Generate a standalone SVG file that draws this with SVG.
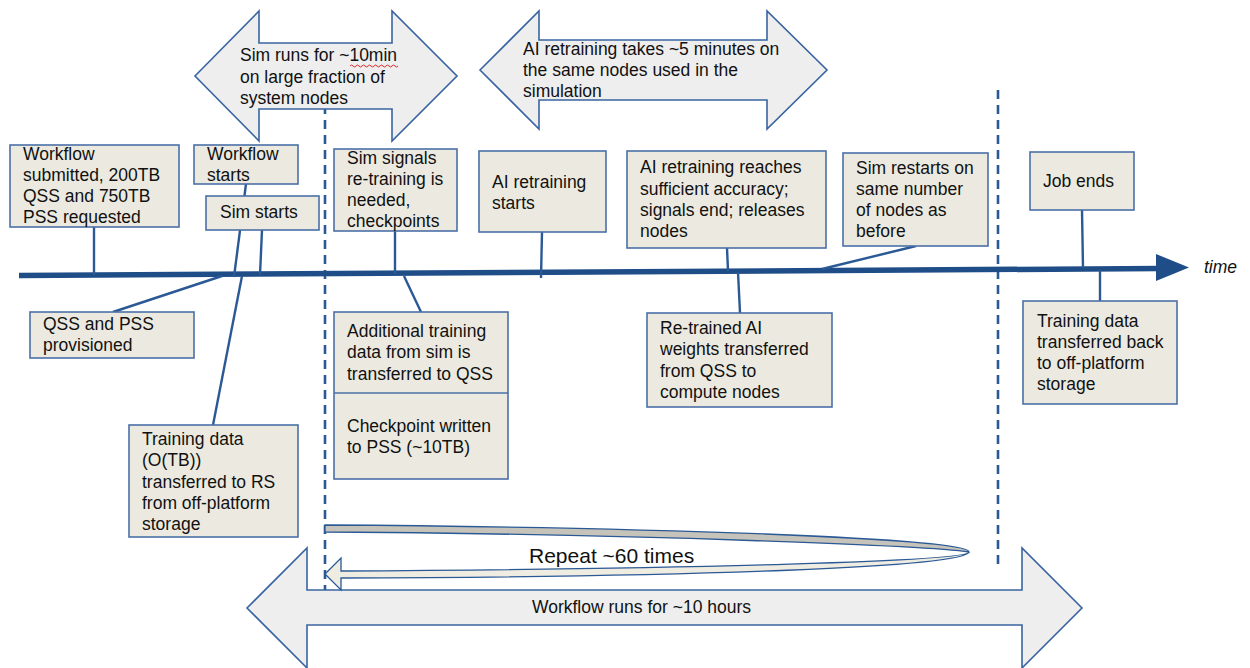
<svg xmlns="http://www.w3.org/2000/svg" width="1250" height="668" viewBox="0 0 1250 668">
  <defs>
    <style>
      .box { fill: #ECEAE0; stroke: #4A70A6; stroke-width: 1.6; }
      .span { fill: #EEEEEE; stroke: #3A64A0; stroke-width: 1.6; stroke-linejoin: miter; }
      .lbl { font-family: "Liberation Sans", Arial, sans-serif; font-size: 17.5px; fill: #111111; }
      .link { stroke: #2B5996; stroke-width: 2.4; fill: none; stroke-linecap: butt; }
      .dash { stroke: #2B5996; stroke-width: 2.6; fill: none; stroke-dasharray: 9 6; }
    </style>
  </defs>
  <rect width="1250" height="668" fill="#FFFFFF"/>

  <!-- phase dividers -->
  <g id="dividers">
    <line class="dash" x1="325" y1="105" x2="325" y2="590"/>
    <line class="dash" x1="998" y1="90" x2="998" y2="564"/>
  </g>

  <!-- duration arrows -->
  <g id="sim-span">
    <path class="span" d="M195,76 L259,11 L259,43 L392,43 L392,11 L457,76 L392,141 L392,109 L259,109 L259,141 Z"/>
    <text class="lbl" x="240" y="61">Sim runs for ~10min</text>
    <text class="lbl" x="240" y="83">on large fraction of</text>
    <text class="lbl" x="240" y="104">system nodes</text>
    <path d="M350,66 q1.5,-2 3,0 t3,0 t3,0 t3,0 t3,0 t3,0 t3,0 t3,0 t3,0 t3,0 t3,0 t3,0 t3,0 t3,0 t3,0 t3,0" fill="none" stroke="#E0282A" stroke-width="1"/>
  </g>
  <g id="ai-span">
    <path class="span" d="M480,70 L539,11 L539,40 L767,40 L767,11 L827,70 L767,129 L767,100 L539,100 L539,129 Z"/>
    <text class="lbl" x="523" y="55">AI retraining takes ~5 minutes on</text>
    <text class="lbl" x="523" y="76">the same nodes used in the</text>
    <text class="lbl" x="523" y="97">simulation</text>
  </g>
  <g id="workflow-span">
    <path class="span" d="M247,608 L307,548 L307,590 L1022,590 L1022,548 L1082,608 L1022,668 L1022,625 L307,625 L307,668 Z"/>
    <text class="lbl" x="532" y="613">Workflow runs for ~10 hours</text>
  </g>

  <!-- repeat loop -->
  <g id="repeat-loop">
    <path d="M325,525 C640,527 969,538 969,552 C930,546 640,534 325,532 Z" fill="#C6C4BA" stroke="#2B5996" stroke-width="1.3"/>
    <path d="M969,552 C969,561 700,569 341,571 L341,558 L325,574 L341,590 L341,578 C700,577 963,567 969,552 Z" fill="#EFECE2" stroke="#2B5996" stroke-width="1.3"/>
    <text class="lbl" x="529" y="563" style="font-size:21px">Repeat ~60 times</text>
  </g>

  <!-- timeline axis -->
  <g id="timeline">
    <line x1="19" y1="275.5" x2="1160" y2="268.5" stroke="#1F4D87" stroke-width="5.5"/>
    <path d="M1156,254 L1189,267.5 L1156,281 Z" fill="#1F4D87"/>
    <text x="1204" y="273" font-family="Liberation Sans, Arial, sans-serif" font-size="17.5" font-style="italic" fill="#111111">time</text>
  </g>

  <!-- connectors from events to the timeline -->
  <g id="connectors">
    <line class="link" x1="94" y1="227" x2="94" y2="275"/>
    <line class="link" x1="246" y1="184" x2="234" y2="277"/>
    <line class="link" x1="262" y1="230" x2="260" y2="275"/>
    <line class="link" x1="222" y1="276" x2="113" y2="312"/>
    <line class="link" x1="242" y1="276" x2="213" y2="425"/>
    <line class="link" x1="395" y1="231" x2="395" y2="274"/>
    <line class="link" x1="404" y1="276" x2="421" y2="312"/>
    <line class="link" x1="542" y1="232" x2="541" y2="278"/>
    <line class="link" x1="727" y1="248" x2="728" y2="271"/>
    <line class="link" x1="738" y1="272" x2="740" y2="313"/>
    <line class="link" x1="916" y1="246" x2="822" y2="269"/>
    <line class="link" x1="1082" y1="210" x2="1083" y2="268"/>
    <line class="link" x1="1100" y1="270" x2="1100" y2="301"/>
  </g>

  <!-- event boxes -->
  <g id="workflow-submitted">
    <rect class="box" x="10" y="145" width="169" height="82"/>
    <text class="lbl" x="23" y="160">Workflow</text>
    <text class="lbl" x="23" y="181">submitted, 200TB</text>
    <text class="lbl" x="23" y="202">QSS and 750TB</text>
    <text class="lbl" x="23" y="223">PSS requested</text>
  </g>
  <g id="workflow-starts">
    <rect class="box" x="194" y="145" width="104" height="39"/>
    <text class="lbl" x="207" y="160">Workflow</text>
    <text class="lbl" x="207" y="181">starts</text>
  </g>
  <g id="sim-starts">
    <rect class="box" x="206" y="196" width="113" height="34"/>
    <text class="lbl" x="220" y="218">Sim starts</text>
  </g>
  <g id="sim-signals">
    <rect class="box" x="334" y="149" width="123" height="82"/>
    <text class="lbl" x="347" y="164">Sim signals</text>
    <text class="lbl" x="347" y="185">re-training is</text>
    <text class="lbl" x="347" y="206">needed,</text>
    <text class="lbl" x="347" y="227">checkpoints</text>
  </g>
  <g id="ai-retraining-starts">
    <rect class="box" x="479" y="151" width="127" height="81"/>
    <text class="lbl" x="492" y="188">AI retraining</text>
    <text class="lbl" x="492" y="209">starts</text>
  </g>
  <g id="ai-retraining-reaches">
    <rect class="box" x="627" y="151" width="199" height="97"/>
    <text class="lbl" x="640" y="173">AI retraining reaches</text>
    <text class="lbl" x="640" y="195">sufficient accuracy;</text>
    <text class="lbl" x="640" y="216">signals end; releases</text>
    <text class="lbl" x="640" y="237">nodes</text>
  </g>
  <g id="sim-restarts">
    <rect class="box" x="843" y="153" width="145" height="93"/>
    <text class="lbl" x="856" y="174">Sim restarts on</text>
    <text class="lbl" x="856" y="195">same number</text>
    <text class="lbl" x="856" y="216">of nodes as</text>
    <text class="lbl" x="856" y="237">before</text>
  </g>
  <g id="job-ends">
    <rect class="box" x="1030" y="152" width="104" height="58"/>
    <text class="lbl" x="1043" y="187">Job ends</text>
  </g>
  <g id="qss-pss-provisioned">
    <rect class="box" x="30" y="312" width="164" height="46"/>
    <text class="lbl" x="43" y="330">QSS and PSS</text>
    <text class="lbl" x="43" y="351">provisioned</text>
  </g>
  <g id="training-data-in">
    <rect class="box" x="129" y="425" width="169" height="112"/>
    <text class="lbl" x="142" y="445">Training data</text>
    <text class="lbl" x="142" y="466">(O(TB))</text>
    <text class="lbl" x="142" y="488">transferred to RS</text>
    <text class="lbl" x="142" y="509">from off-platform</text>
    <text class="lbl" x="142" y="530">storage</text>
  </g>
  <g id="additional-training-data">
    <rect class="box" x="334" y="312" width="174" height="167"/>
    <line x1="334" y1="393" x2="508" y2="393" stroke="#4A70A6" stroke-width="1.6"/>
    <text class="lbl" x="347" y="337">Additional training</text>
    <text class="lbl" x="347" y="358">data from sim is</text>
    <text class="lbl" x="347" y="380">transferred to QSS</text>
    <text class="lbl" x="347" y="432">Checkpoint written</text>
    <text class="lbl" x="347" y="453">to PSS (~10TB)</text>
  </g>
  <g id="retrained-weights">
    <rect class="box" x="647" y="313" width="185" height="94"/>
    <text class="lbl" x="660" y="334">Re-trained AI</text>
    <text class="lbl" x="660" y="355">weights transferred</text>
    <text class="lbl" x="660" y="377">from QSS to</text>
    <text class="lbl" x="660" y="398">compute nodes</text>
  </g>
  <g id="training-data-out">
    <rect class="box" x="1023" y="301" width="154" height="103"/>
    <text class="lbl" x="1037" y="327">Training data</text>
    <text class="lbl" x="1037" y="348">transferred back</text>
    <text class="lbl" x="1037" y="369">to off-platform</text>
    <text class="lbl" x="1037" y="390">storage</text>
  </g>
</svg>
